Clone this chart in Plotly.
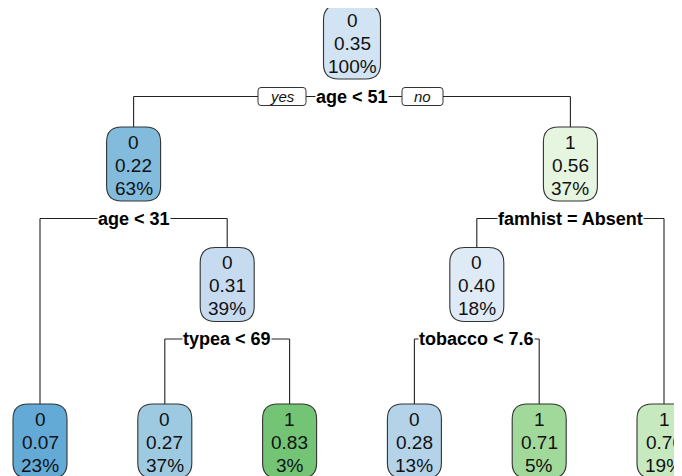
import plotly.graph_objects as go

# ---- tree data (rpart node numbering: children of n are 2n and 2n+1) ----
node_id = [1, 2, 3, 4, 5, 6, 7, 10, 11, 12, 13]
node_class = ["0", "0", "1", "0", "0", "0", "1", "0", "1", "0", "1"]
node_prob = ["0.35", "0.22", "0.56", "0.07", "0.31", "0.40", "0.70", "0.27", "0.83", "0.28", "0.71"]
node_pct = ["100%", "63%", "37%", "23%", "39%", "18%", "19%", "37%", "3%", "13%", "5%"]

split_node = [1, 2, 3, 5, 6]
split_label = ["age < 51", "age < 31", "famhist = Absent", "typea < 69", "tobacco < 7.6"]

# ---- styles ----
fill = {
    1: "#D2E3F3", 2: "#82BBDC", 3: "#E5F5E0", 4: "#64AAD7", 5: "#C6DBEF",
    6: "#DEEBF7", 7: "#C7E9C0", 10: "#9ECAE1", 11: "#74C476", 12: "#B4D3E9",
    13: "#A1D99B",
}
FONT = "Liberation Sans, Arial, Helvetica, sans-serif"
TXT = 19
SPLIT_TXT = 18
X0, DX = 40, 124.8          # leaf layout
LEVEL_Y = [42, 164, 284.5]  # node centre by depth
LEAF_Y = 441                # fallen leaves
HALF_H = 37
LINE_GAP = 23
SPLIT_GAP = 17.5
OFF = 8                     # page body margin

ids = set(node_id)
info = {n: (c, p, q) for n, c, p, q in zip(node_id, node_class, node_prob, node_pct)}
labels = dict(zip(split_node, split_label))

def is_leaf(n):
    return (2 * n) not in ids

pos = {}
leaf_counter = [0]

def depth(n):
    d = 0
    while n > 1:
        n //= 2
        d += 1
    return d

def layout(n):
    if is_leaf(n):
        x = X0 + DX * leaf_counter[0]
        leaf_counter[0] += 1
        pos[n] = (x, LEAF_Y)
        return x
    xl = layout(2 * n)
    xr = layout(2 * n + 1)
    x = (xl + xr) / 2
    pos[n] = (x, LEVEL_Y[depth(n)])
    return x

layout(1)

def rounded(x0, y0, x1, y1, r):
    return (f"M{x0+r},{y0} L{x1-r},{y0} Q{x1},{y0} {x1},{y0+r} "
            f"L{x1},{y1-r} Q{x1},{y1} {x1-r},{y1} L{x0+r},{y1} "
            f"Q{x0},{y1} {x0},{y1-r} L{x0},{y0+r} Q{x0},{y0} {x0+r},{y0} Z")

fig = go.Figure()
shapes = []
annotations = []

# connectors
lx, ly = [], []
for n in split_node:
    px, py = pos[n]
    sy = py + HALF_H + SPLIT_GAP
    xl = pos[2 * n][0]
    xr = pos[2 * n + 1][0]
    lx += [xl, xr, None]
    ly += [sy, sy, None]
    for c in (2 * n, 2 * n + 1):
        cx, cy = pos[c]
        lx += [cx, cx, None]
        ly += [sy, cy - HALF_H, None]
    annotations.append(dict(
        x=px, y=sy, text=f"<b>{labels[n]}</b>", showarrow=False,
        font=dict(family=FONT, size=SPLIT_TXT, color="black"),
        bgcolor="white", borderpad=0, xanchor="center", yanchor="middle"))

fig.add_trace(go.Scatter(x=lx, y=ly, mode="lines",
                         line=dict(color="#222222", width=1.1),
                         hoverinfo="skip", showlegend=False))

# node boxes
for n in node_id:
    x, y = pos[n]
    hw = 28.5 if n == 1 else 27
    shapes.append(dict(type="path", path=rounded(x - hw, y - HALF_H, x + hw, y + HALF_H, 15),
                       fillcolor=fill[n], line=dict(color="#333333", width=1.1),
                       layer="below"))
    c, p, q = info[n]
    for k, t in enumerate((c, p, q)):
        annotations.append(dict(
            x=x, y=y + (k - 1) * LINE_GAP + 1, text=t, showarrow=False,
            font=dict(family=FONT, size=TXT, color="#111111"),
            xanchor="center", yanchor="middle"))

# yes / no tags on root split
rx, ry = pos[1]
sy = ry + HALF_H + SPLIT_GAP
for txt, a, b in (("yes", -94, -46), ("no", 50, 91)):
    shapes.append(dict(type="path", path=rounded(rx + a, sy - 9, rx + b, sy + 9, 3),
                       fillcolor="white", line=dict(color="#333333", width=1),
                       layer="above"))
    annotations.append(dict(
        x=rx + (a + b) / 2, y=sy, text=f"<i>{txt}</i>", showarrow=False,
        font=dict(family=FONT, size=15, color="#111111"),
        xanchor="center", yanchor="middle"))

fig.update_layout(
    width=682, height=476,
    margin=dict(l=0, r=0, t=0, b=0),
    paper_bgcolor="white", plot_bgcolor="white",
    xaxis=dict(range=[OFF, 682 + OFF], visible=False, fixedrange=True),
    yaxis=dict(range=[476 + OFF, OFF], visible=False, fixedrange=True),
    shapes=shapes, annotations=annotations, showlegend=False,
)
fig.write_html("out.html")
